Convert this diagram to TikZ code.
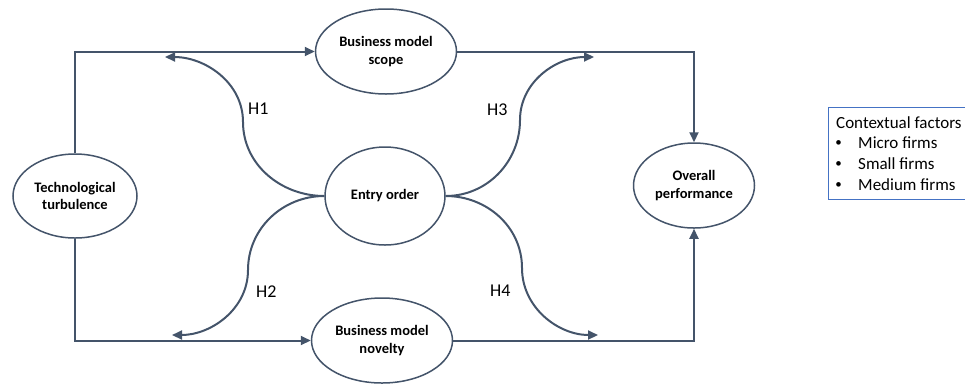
\documentclass[tikz,border=0pt]{standalone}
\usepackage{fontspec}
\setmainfont{Carlito}
\usetikzlibrary{arrows.meta,shapes.geometric}
\definecolor{linec}{HTML}{44546A}
\definecolor{boxc}{HTML}{4472C4}
\tikzset{
  construct/.style={ellipse, draw=linec, line width=1.5pt, fill=white, inner sep=0pt,
    align=center, font=\fontsize{14.5}{17.5}\selectfont\bfseries},
  link/.style={draw=linec, line width=2pt, -{Triangle[length=10pt,width=9pt]}},
  hyp/.style={anchor=base west, inner sep=0pt, font=\fontsize{18}{21}\selectfont},
  ctxtext/.style={anchor=base west, inner sep=0pt, font=\fontsize{17}{20}\selectfont},
  bullet/.style={anchor=center, inner sep=0pt, font=\fontsize{13}{14}\selectfont},
}
\begin{document}
\begin{tikzpicture}[x=1pt,y=-1pt]
\useasboundingbox (0,0) rectangle (965,384);

% constructs
\node[construct, minimum width=124pt, minimum height=84pt] (tt) at (75,196) {Technological\\turbulence};
\node[construct, minimum width=141pt, minimum height=85pt] (bms) at (386,51.5) {Business model\\scope};
\node[construct, minimum width=120pt, minimum height=98pt] (eo) at (385,196) {Entry order};
\node[construct, minimum width=141pt, minimum height=85pt] (bmn) at (382,340.5) {Business model\\novelty};
\node[construct, minimum width=121pt, minimum height=85pt] (op) at (694,185.5) {Overall\\performance};

% main paths
\draw[link] (tt.north) |- (bms.west);
\draw[link] (bms.east) -| (op.north);
\draw[link] (tt.south) |- (bmn.west);
\draw[link] (bmn.east) -| (op.south);

% moderating curves
\coordinate (h1m) at (243,122);
\coordinate (h1t) at (165,57);
\coordinate (h3m) at (520,120);
\coordinate (h3t) at (594,57);
\coordinate (h2m) at (248,270);
\coordinate (h2t) at (172,335);
\coordinate (h4m) at (522,268);
\coordinate (h4t) at (598,335);

\draw[link] (eo.west) to[out=180,in=-90] (h1m) to[out=90,in=0] (h1t);
\draw[link] (eo.east) to[out=0,in=-90] (h3m) to[out=90,in=180] (h3t);
\draw[link] (eo.west) to[out=180,in=90] (h2m) to[out=-90,in=0] (h2t);
\draw[link] (eo.east) to[out=0,in=90] (h4m) to[out=-90,in=180] (h4t);

% hypothesis labels
\node[hyp] (lh1) at (248,114) {H1};
\node[hyp] (lh3) at (487,115) {H3};
\node[hyp] (lh2) at (256,297) {H2};
\node[hyp] (lh4) at (490,296) {H4};

% contextual factors
\node[draw=boxc, line width=1pt, anchor=north west, minimum width=145pt, minimum height=92pt, inner sep=0pt] (ctx) at (828,107) {};
\node[ctxtext] (ct) at (836,128) {Contextual factors};
\node[bullet] (b1) at (838.5,143.5) {•};
\node[ctxtext] (c1) at (858,148) {Micro firms};
\node[bullet] (b2) at (838.5,164.5) {•};
\node[ctxtext] (c2) at (858,169) {Small firms};
\node[bullet] (b3) at (838.5,185.5) {•};
\node[ctxtext] (c3) at (858,190) {Medium firms};
\end{tikzpicture}
\end{document}
